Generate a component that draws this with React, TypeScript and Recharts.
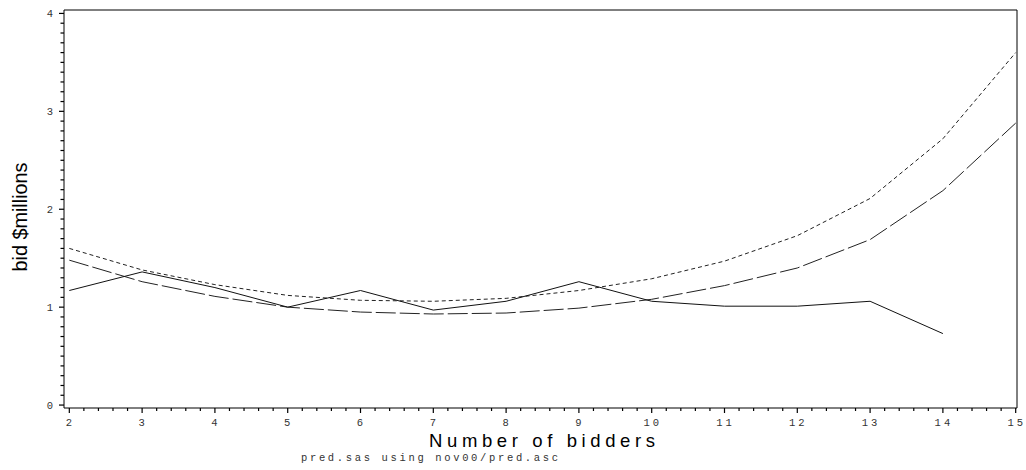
import React from "react";
import { LineChart, Line, XAxis, YAxis, ReferenceLine } from "recharts";

const bidders = [2, 3, 4, 5, 6, 7, 8, 9, 10, 11, 12, 13, 14, 15];
const observedBid = [1.17, 1.36, 1.2, 1.0, 1.17, 0.97, 1.06, 1.26, 1.06, 1.01, 1.01, 1.06, 0.73, null];
const fittedBid = [1.48, 1.26, 1.11, 1.0, 0.95, 0.93, 0.94, 0.99, 1.08, 1.22, 1.4, 1.69, 2.19, 2.88];
const upperBid = [1.6, 1.38, 1.23, 1.12, 1.07, 1.06, 1.09, 1.17, 1.29, 1.47, 1.73, 2.11, 2.72, 3.6];

const xMajorTicks = [2, 3, 4, 5, 6, 7, 8, 9, 10, 11, 12, 13, 14, 15];
const yMajorTicks = [0, 1, 2, 3, 4];
const X_MINOR_STEPS = 5;
const Y_MINOR_STEPS = 10;

const X_DOMAIN: [number, number] = [1.927, 15.018];
const Y_DOMAIN: [number, number] = [-0.03, 4.035];

const xTicks: number[] = [];
xMajorTicks.forEach((t, i) => {
  xTicks.push(t);
  if (i < xMajorTicks.length - 1) {
    for (let k = 1; k < X_MINOR_STEPS; k++) xTicks.push(+(t + k / X_MINOR_STEPS).toFixed(3));
  }
});
const yTicks: number[] = [];
yMajorTicks.forEach((t, i) => {
  yTicks.push(t);
  if (i < yMajorTicks.length - 1) {
    for (let k = 1; k < Y_MINOR_STEPS; k++) yTicks.push(+(t + k / Y_MINOR_STEPS).toFixed(3));
  }
});

const data = bidders.map((b, i) => ({
  bidders: b,
  observed: observedBid[i],
  fitted: fittedBid[i],
  upper: upperBid[i],
}));

const isMajor = (v: number) => Math.abs(v - Math.round(v)) < 1e-6;

const TICK_FONT = "'Liberation Mono', 'DejaVu Sans Mono', monospace";

const XTick = (props: any) => {
  const { x, y, payload } = props;
  const v = payload.value as number;
  const major = isMajor(v);
  return (
    <g>
      <rect x={x - 0.6} y={y} width={1.2} height={major ? 5 : 3} fill="#000" stroke="none" />
      {major && (
        <text
          x={x + 1}
          y={y + 18}
          textAnchor="middle"
          fontFamily={TICK_FONT}
          fontSize={10.5}
          letterSpacing={3}
          fill="#333"
          stroke="none"
        >
          {String(Math.round(v))}
        </text>
      )}
    </g>
  );
};

const YTick = (props: any) => {
  const { x, y, payload } = props;
  const v = payload.value as number;
  const major = isMajor(v);
  const len = major ? 5 : 3.5;
  return (
    <g>
      <rect x={x - len} y={y - 0.6} width={len} height={1.2} fill="#000" stroke="none" />
      {major && (
        <text
          x={x - 11}
          y={y + 3.5}
          textAnchor="end"
          fontFamily={TICK_FONT}
          fontSize={10.5}
          fill="#333"
          stroke="none"
        >
          {String(Math.round(v))}
        </text>
      )}
    </g>
  );
};

export default function App() {
  return (
    <div style={{ position: "absolute", left: 0, top: 0, width: 1026, height: 470, background: "#fff" }}>
      <LineChart
        width={1026}
        height={470}
        data={data}
        margin={{ top: 10, right: 9, bottom: 0, left: 0 }}
      >
        <XAxis
          dataKey="bidders"
          type="number"
          domain={X_DOMAIN}
          ticks={xTicks}
          interval={0}
          tick={(p: any) => <XTick {...p} />}
          tickLine={false}
          tickSize={0}
          tickMargin={0}
          height={62}
          axisLine={{ stroke: "#000", strokeWidth: 1 }}
          allowDataOverflow
        />
        <YAxis
          type="number"
          domain={Y_DOMAIN}
          ticks={yTicks}
          interval={0}
          tick={(p: any) => <YTick {...p} />}
          tickLine={false}
          tickSize={0}
          tickMargin={0}
          width={64}
          axisLine={{ stroke: "#000", strokeWidth: 1 }}
          allowDataOverflow
        />
        <ReferenceLine y={Y_DOMAIN[1]} stroke="#000" strokeWidth={1} />
        <ReferenceLine x={X_DOMAIN[1]} stroke="#000" strokeWidth={1} />
        <Line
          type="linear"
          dataKey="upper"
          stroke="#222"
          strokeWidth={1}
          strokeDasharray="4 3"
          dot={false}
          isAnimationActive={false}
        />
        <Line
          type="linear"
          dataKey="fitted"
          stroke="#222"
          strokeWidth={1}
          strokeDasharray="20 4"
          dot={false}
          isAnimationActive={false}
        />
        <Line
          type="linear"
          dataKey="observed"
          stroke="#111"
          strokeWidth={1}
          dot={false}
          isAnimationActive={false}
          connectNulls={false}
        />
      </LineChart>
      <svg
        width={1026}
        height={470}
        style={{ position: "absolute", left: 0, top: 0, pointerEvents: "none" }}
      >
        <text
          x={0}
          y={0}
          transform="translate(27,217) rotate(-90)"
          textAnchor="middle"
          fontFamily="'Liberation Sans', Arial, sans-serif"
          fontSize={21}
          textLength={109}
          lengthAdjust="spacingAndGlyphs"
          fill="#000"
        >
          bid $millions
        </text>
        <text
          x={429}
          y={447}
          fontFamily="'Liberation Sans', Arial, sans-serif"
          fontSize={18.5}
          textLength={226}
          lengthAdjust="spacing"
          fill="#000"
        >
          Number of bidders
        </text>
        <text
          x={301}
          y={461}
          fontFamily={TICK_FONT}
          fontSize={10.5}
          textLength={257}
          lengthAdjust="spacing"
          fill="#333"
        >
          pred.sas using nov00/pred.asc
        </text>
      </svg>
    </div>
  );
}
